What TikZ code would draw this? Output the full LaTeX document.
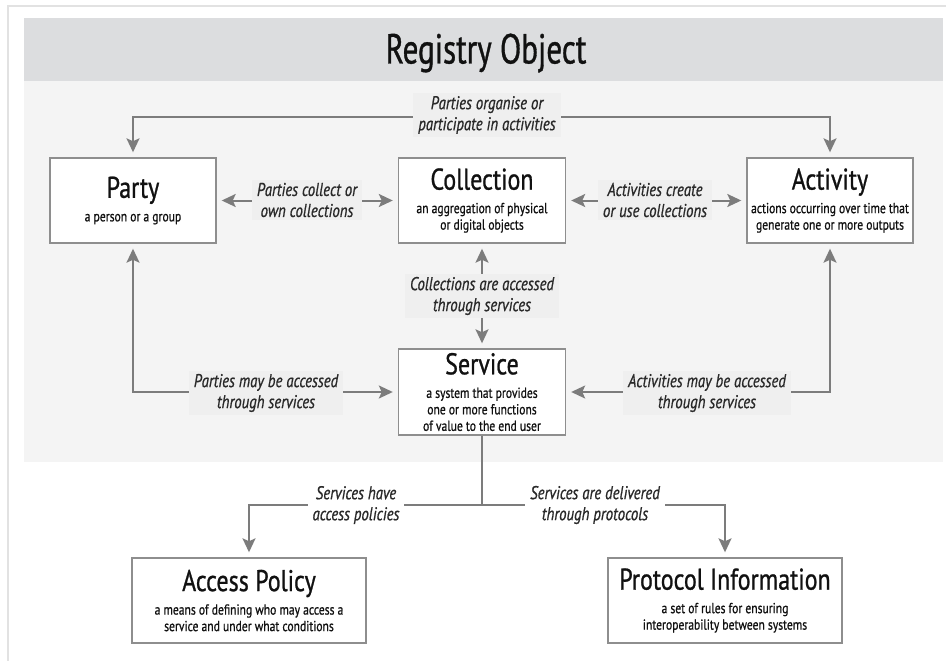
\documentclass[tikz,border=0pt]{standalone}
\usepackage{fontspec}
\setmainfont[FakeStretch=0.8,FakeBold=0.8]{PT Sans}
\newfontfamily\headfam[FakeStretch=0.74,FakeBold=0.8]{PT Sans}
\usetikzlibrary{arrows.meta}
\definecolor{bandc}{HTML}{DCDDDF}
\definecolor{regionc}{HTML}{F4F4F4}
\definecolor{framec}{HTML}{E2E2E2}
\definecolor{linec}{HTML}{7C7C7C}
\definecolor{boxc}{HTML}{8E8E8E}
\definecolor{labbg}{HTML}{EFEFEF}
\definecolor{txtc}{HTML}{111111}
\newcommand{\titlefnt}{\fontsize{30}{32}\selectfont}
\newcommand{\subfnt}{\fontsize{14.5}{16.5}\selectfont}
\tikzset{
  x=1pt, y=-1pt,
  entity/.style={draw=boxc, line width=1.4pt, fill=white, minimum width=#1, minimum height=85pt,
    align=center, inner sep=0pt, font=\subfnt, text=txtc},
  conn/.style={draw=linec, line width=2pt, -{Stealth[length=14pt,width=13pt,inset=3pt]},
    shorten >=5pt},
  conn2/.style={draw=linec, line width=2pt, {Stealth[length=14pt,width=13pt,inset=3pt]}-{Stealth[length=14pt,width=13pt,inset=3pt]},
    shorten >=5pt, shorten <=5pt},
  lab/.style={fill=labbg, inner xsep=5pt, inner ysep=3pt, align=center, text=txtc!90!white,
    font=\fontsize{18.5}{21}\selectfont\itshape},
  labw/.style={lab, fill=white},
}
\begin{document}
\begin{tikzpicture}
\useasboundingbox (0,0) rectangle (946,661);
\fill[white] (0,0) rectangle (946,661);
% frame
\draw[framec, line width=1.5pt] (946,6) -- (8,6) -- (8,661);
% band and region
\fill[regionc] (24,81) rectangle (943,462);
\fill[bandc] (24,18) rectangle (943,81);
\node[font=\headfam\fontsize{42}{44}\selectfont, text=txtc] (title) at (486,53) {Registry Object};

% entities
\node[entity=166pt] (party) at (133,200.5) {{\titlefnt Party}\\[7pt]a person or a group};
\node[entity=167pt] (collection) at (482,200.5) {{\titlefnt Collection}\\[7pt]an aggregation of physical\\or digital objects};
\node[entity=166pt] (activity) at (830,200.5) {{\titlefnt Activity}\\[7pt]actions occurring over time that\\generate one or more outputs};
\node[entity=167pt, minimum height=86pt] (service) at (482,392) {{\titlefnt Service}\\[7pt]a system that provides\\one or more functions\\of value to the end user};
\node[entity=234pt] (access) at (249,600.5) {{\titlefnt Access Policy}\\[7pt]a means of defining who may access a\\service and under what conditions};
\node[entity=234pt] (protocol) at (725,600.5) {{\titlefnt Protocol Information}\\[7pt]a set of rules for ensuring\\interoperability between systems};

% coordinates
\coordinate (topmid) at (482,117);
\coordinate (botmid) at (482,505);

% connectors
\draw[conn2] (party.north) |- (topmid) -| (activity.north);
\draw[conn2] (party.east) -- (collection.west);
\draw[conn2] (collection.east) -- (activity.west);
\draw[conn2] (collection.south) -- (service.north);
\draw[conn2] (party.south) |- (service.west);
\draw[conn2] (activity.south) |- (service.east);
\draw[draw=linec, line width=2pt] (service.south) -- (botmid);
\draw[conn] (botmid) -| (access.north);
\draw[conn] (botmid) -| (protocol.north);

% labels
\node[lab] (l1) at (487,115) {Parties organise or\\participate in activities};
\node[lab] (l2) at (307,200) {Parties collect or\\own collections};
\node[lab] (l3) at (655,200) {Activities create\\or use collections};
\node[lab] (l4) at (482,296) {Collections are accessed\\through services};
\node[lab] (l5) at (266,393) {Parties may be accessed\\through services};
\node[lab] (l6) at (707,393) {Activities may be accessed\\through services};
\node[labw] (l7) at (356,505) {Services have\\access policies};
\node[labw] (l8) at (595,505) {Services are delivered\\through protocols};
\end{tikzpicture}
\end{document}
